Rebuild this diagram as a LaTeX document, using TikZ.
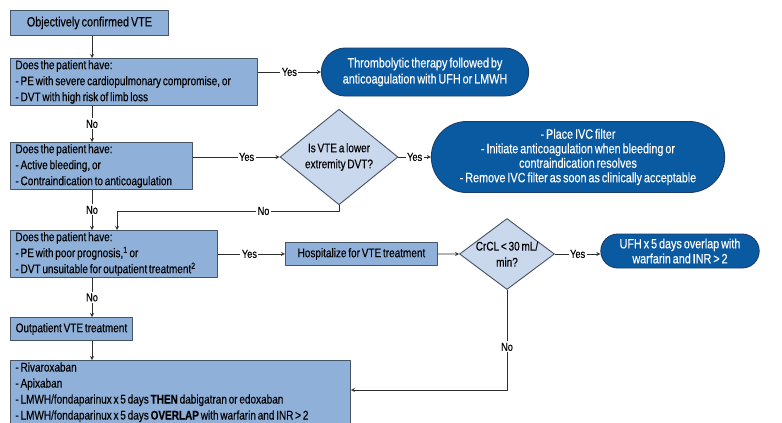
\documentclass[tikz,border=0pt]{standalone}
\usepackage{fontspec}
\setmainfont[FakeStretch=0.8,WordSpace=0.65,FakeBold=0.3]{Liberation Sans}
\usetikzlibrary{shapes.geometric,shapes.misc,arrows}
\definecolor{boxfill}{RGB}{143,176,216}
\definecolor{boxline}{RGB}{70,84,100}
\definecolor{decfill}{RGB}{202,216,238}
\definecolor{outfill}{RGB}{10,90,162}
\definecolor{outline}{RGB}{28,60,100}
\definecolor{wire}{RGB}{45,45,45}
\begin{document}
\begin{tikzpicture}[x=1pt,y=-1pt,line join=round,>=stealth,font=\fontsize{12.5}{16}\selectfont,
	box/.style={draw=boxline,fill=boxfill,line width=0.9pt,anchor=north west,inner xsep=5pt,inner ysep=0pt,align=flush left},
	decision/.style={diamond,draw=boxline,fill=decfill,line width=0.9pt,inner sep=0pt,align=flush center},
	outcome/.style={rounded rectangle,draw=outline,fill=outfill,line width=0.9pt,text=white,align=flush center,font=\fontsize{13.5}{16}\selectfont},
	lbl/.style={fill=white,inner sep=1.5pt,font=\fontsize{11.5}{13}\selectfont},
	wire/.style={draw=wire,line width=0.8pt}]
	\clip (0,0) rectangle (782,423);
	\fill[white] (0,0) rectangle (782,423);
	\coordinate (spine) at (92,0);
	\coordinate (joinB) at (117,211);
	\coordinate (back) at (0,390);
	% left column
	\node[box,text width=148pt,minimum height=25pt,align=flush center,font=\fontsize{13.5}{16}\selectfont] (start) at (10,10) {Objectively confirmed VTE};
	\node[box,text width=237pt,minimum height=47pt] (q1) at (10,58) {Does the patient have:\\- PE with severe cardiopulmonary compromise, or\\- DVT with high risk of limb loss};
	\node[box,text width=172pt,minimum height=47pt] (q2) at (10,142) {Does the patient have:\\- Active bleeding, or\\- Contraindication to anticoagulation};
	\node[box,text width=197pt,minimum height=47pt] (q3) at (10,230) {Does the patient have:\\- PE with poor prognosis,\textsuperscript{1} or\\- DVT unsuitable for outpatient treatment\textsuperscript{2}};
	\node[box,text width=112pt,minimum height=23pt,align=flush center] (outpt) at (10,317) {Outpatient VTE treatment};
	\node[box,text width=330pt,minimum height=80pt,inner ysep=2pt] (drugs) at (10,360) {- Rivaroxaban\\- Apixaban\\- LMWH/fondaparinux x 5 days \textbf{THEN} dabigatran or edoxaban\\- LMWH/fondaparinux x 5 days \textbf{OVERLAP} with warfarin and INR > 2\\ \strut};
	\node[box,text width=142pt,minimum height=23pt,align=flush center] (hosp) at (285,242) {Hospitalize for VTE treatment};
	% decisions
	\node[decision,minimum width=118pt,minimum height=82pt] (lower) at (339,157) {Is VTE a lower\\extremity DVT?};
	\node[decision,minimum width=95pt,minimum height=71pt,inner sep=-9pt] (crcl) at (507,254) {CrCL < 30 mL/\\min?};
	% outcomes
	\node[outcome,minimum width=214pt,minimum height=48pt] (lysis) at (425,72) {Thrombolytic therapy followed by\\anticoagulation with UFH or LMWH};
	\node[outcome,minimum width=300pt,minimum height=71pt,font=\fontsize{13.5}{14.5}\selectfont] (ivc) at (578,157) {- Place IVC filter\\- Initiate anticoagulation when bleeding or\\contraindication resolves\\- Remove IVC filter as soon as clinically acceptable};
	\node[outcome,minimum width=165pt,minimum height=34pt,font=\fontsize{13.5}{15}\selectfont] (ufh) at (680,251) {UFH x 5 days overlap with\\warfarin and INR > 2};
	% connectors
	\draw[wire,->] (start.south -| spine) -- (q1.north -| spine);
	\draw[wire,->] (q1.south -| spine) -- node[lbl]{No} (q2.north -| spine);
	\draw[wire,->] (q2.south -| spine) -- node[lbl]{No} (q3.north -| spine);
	\draw[wire,->] (q3.south -| spine) -- node[lbl]{No} (outpt.north -| spine);
	\draw[wire,->] (outpt.south -| spine) -- (drugs.north -| spine);
	\draw[wire,->] (q1.east |- lysis) -- node[lbl]{Yes} (lysis.west);
	\draw[wire,->] (q2.east |- lower) -- node[lbl,pos=0.62]{Yes} (lower.west);
	\draw[wire,->] (lower.east) -- node[lbl]{Yes} (ivc.west);
	\draw[wire,->] (lower.south) |- node[lbl,pos=0.67]{No} (joinB) -- (joinB |- q3.north);
	\draw[wire,->] (q3.east |- hosp) -- node[lbl,pos=0.47]{Yes} (hosp.west);
	\draw[wire,->] (hosp.east) -- (crcl.west);
	\draw[wire,->] (crcl.east) -- node[lbl]{Yes} (ufh.west |- crcl);
	\draw[wire,->] (crcl.south) -- node[lbl,pos=0.57]{No} (crcl.south |- back) -- (back -| drugs.east);
\end{tikzpicture}
\end{document}
